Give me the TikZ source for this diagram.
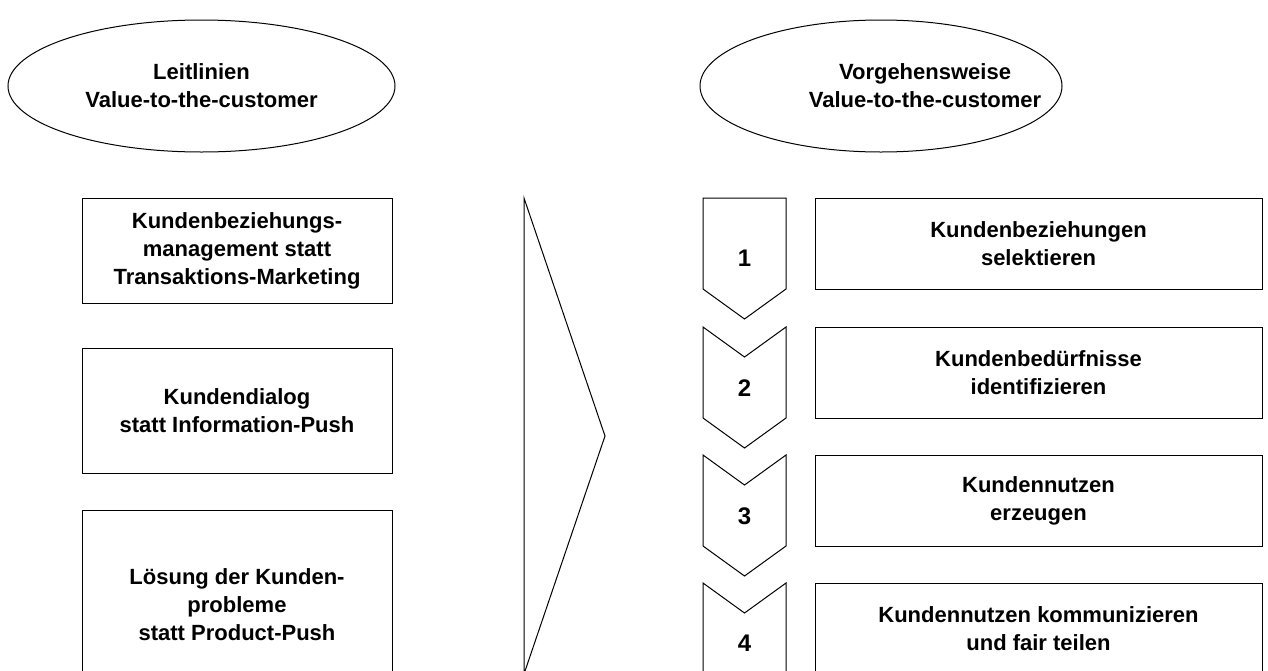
\documentclass[tikz,border=0pt]{standalone}
\usepackage{fontspec}
\setmainfont{Liberation Sans}
\usetikzlibrary{shapes.geometric}
\begin{document}
\begin{tikzpicture}[x=1pt,y=-1pt,
  every node/.style={font=\fontsize{22}{28}\selectfont\bfseries, align=center, inner sep=0pt},
  line/.style={draw=black, line width=1pt},
  ell/.style={line, ellipse},
  lbox/.style={line, minimum width=310pt},
  rbox/.style={line, minimum width=447pt, minimum height=91pt},
  num/.style={font=\fontsize{24}{28}\selectfont\bfseries}]
\useasboundingbox (0,0) rectangle (1268,670);
% ellipses
\node[ell, minimum width=387pt, minimum height=132pt] (e1) at (201.5,86) {};
\node (t1) at (201.5,86) {Leitlinien\\Value-to-the-customer};
\node[ell, minimum width=362pt, minimum height=132pt] (e2) at (881,86) {};
\node (t2) at (925,86) {Vorgehensweise\\Value-to-the-customer};
% left boxes
\node[lbox, minimum height=105pt] (l1) at (237,250.5) {Kundenbeziehungs-\\management statt\\Transaktions-Marketing};
\node[lbox, minimum height=125pt] (l2) at (237,410.5) {Kundendialog\\statt Information-Push};
\node[lbox, minimum height=190pt] (l3) at (237,605) {Lösung der Kunden-\\probleme\\statt Product-Push};
% big arrow
\coordinate (a1) at (524,198);
\coordinate (a2) at (605,436);
\coordinate (a3) at (524,674);
\draw[line] (a1) -- (a2) -- (a3) -- cycle;
% chevrons
\def\xL{703}\def\xR{786}\def\xM{744.5}
\draw[line] (\xL,198) -- (\xR,198) -- (\xR,289) -- (\xM,319) -- (\xL,289) -- cycle;
\draw[line] (\xL,327) -- (\xM,357) -- (\xR,327) -- (\xR,418) -- (\xM,448) -- (\xL,418) -- cycle;
\draw[line] (\xL,455) -- (\xM,485) -- (\xR,455) -- (\xR,546) -- (\xM,576) -- (\xL,546) -- cycle;
\draw[line] (\xL,583) -- (\xM,613) -- (\xR,583) -- (\xR,680) -- (\xL,680) -- cycle;
\node[num] (n1) at (\xM,258) {1};
\node[num] (n2) at (\xM,388) {2};
\node[num] (n3) at (\xM,516) {3};
\node[num] (n4) at (\xM,643) {4};
% right boxes
\node[rbox] (r1) at (1038.5,243.5) {Kundenbeziehungen\\selektieren};
\node[rbox] (r2) at (1038.5,372.5) {Kundenbedürfnisse\\identifizieren};
\node[rbox] (r3) at (1038.5,500.5) {Kundennutzen\\erzeugen};
\node[rbox] (r4) at (1038.5,628.5) {Kundennutzen kommunizieren\\und fair teilen};
\end{tikzpicture}
\end{document}
